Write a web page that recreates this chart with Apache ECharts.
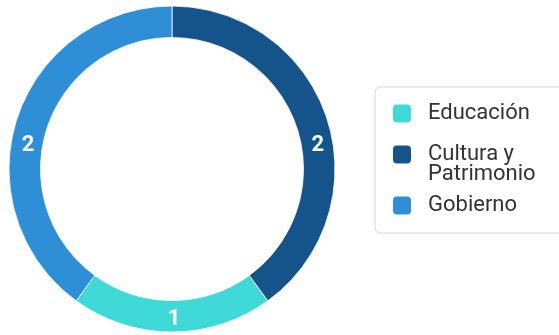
<!DOCTYPE html>
<html><head><meta charset="utf-8">
<script src="https://cdn.jsdelivr.net/npm/echarts@6/dist/echarts.min.js"></script>
<style>html,body{margin:0;padding:0;background:#fff}#c{width:559px;height:335px}</style>
</head><body><div id="c"></div>
<script>
// Data
const categories = ['Educación', 'Cultura y Patrimonio', 'Gobierno'];
const values = [1, 2, 2];
const legendLabels = ['Educación', 'Cultura y\nPatrimonio', 'Gobierno'];
const colors = ['#3fdad7', '#15548b', '#2e8fd6'];

const chart = echarts.init(document.getElementById('c'), null, { renderer: 'canvas' });

const labelShift = { 0: [2, 0], 1: [3, 23], 2: [-1, 23] };

chart.setOption({
  animation: false,
  color: colors,
  legend: {
    orient: 'vertical',
    left: 375,
    top: 87,
    padding: [15.5, 40, 6.5, 16],
    itemWidth: 20,
    itemHeight: 20,
    itemGap: -0.5,
    icon: 'roundRect',
    borderColor: '#d4d4d4',
    borderWidth: 1,
    borderRadius: 5,
    selectedMode: false,
    data: categories,
    formatter: function (name) {
      const i = categories.indexOf(name);
      const lines = legendLabels[i].split('\n');
      if (lines.length > 1) {
        return '{t|}\n' + lines.map(l => '{t|' + l + '}').join('\n');
      }
      const key = i === categories.length - 1 ? 'g' : 't';
      return '{' + key + '|' + lines[0] + '}';
    },
    textStyle: {
      fontFamily: 'Roboto',
      fontSize: 22,
      color: '#333',
      rich: {
        t: { fontFamily: 'Roboto', fontSize: 22, color: '#333', lineHeight: 19.5, padding: [0, 0, 0, 11] },
        g: { fontFamily: 'Roboto', fontSize: 22, color: '#333', padding: [10, 0, 10, 11], backgroundColor: 'rgba(255,255,255,0)' }
      }
    }
  },
  series: [{
    type: 'pie',
    center: [172, 169],
    radius: [131.5, 163],
    startAngle: 234,
    clockwise: false,
    silent: true,
    data: categories.map((c, i) => ({ name: c, value: values[i] })),
    label: {
      show: true,
      position: 'inside',
      formatter: '{c}',
      color: '#fff',
      fontSize: 22,
      fontWeight: 'bold',
      fontFamily: 'Roboto'
    },
    labelLayout: function (p) {
      const s = labelShift[p.dataIndex] || [0, 0];
      return { dx: s[0], dy: s[1] };
    },
    labelLine: { show: false },
    itemStyle: { borderColor: '#fff', borderWidth: 0.8 },
    emphasis: { disabled: true }
  }]
});
</script>
</body></html>
